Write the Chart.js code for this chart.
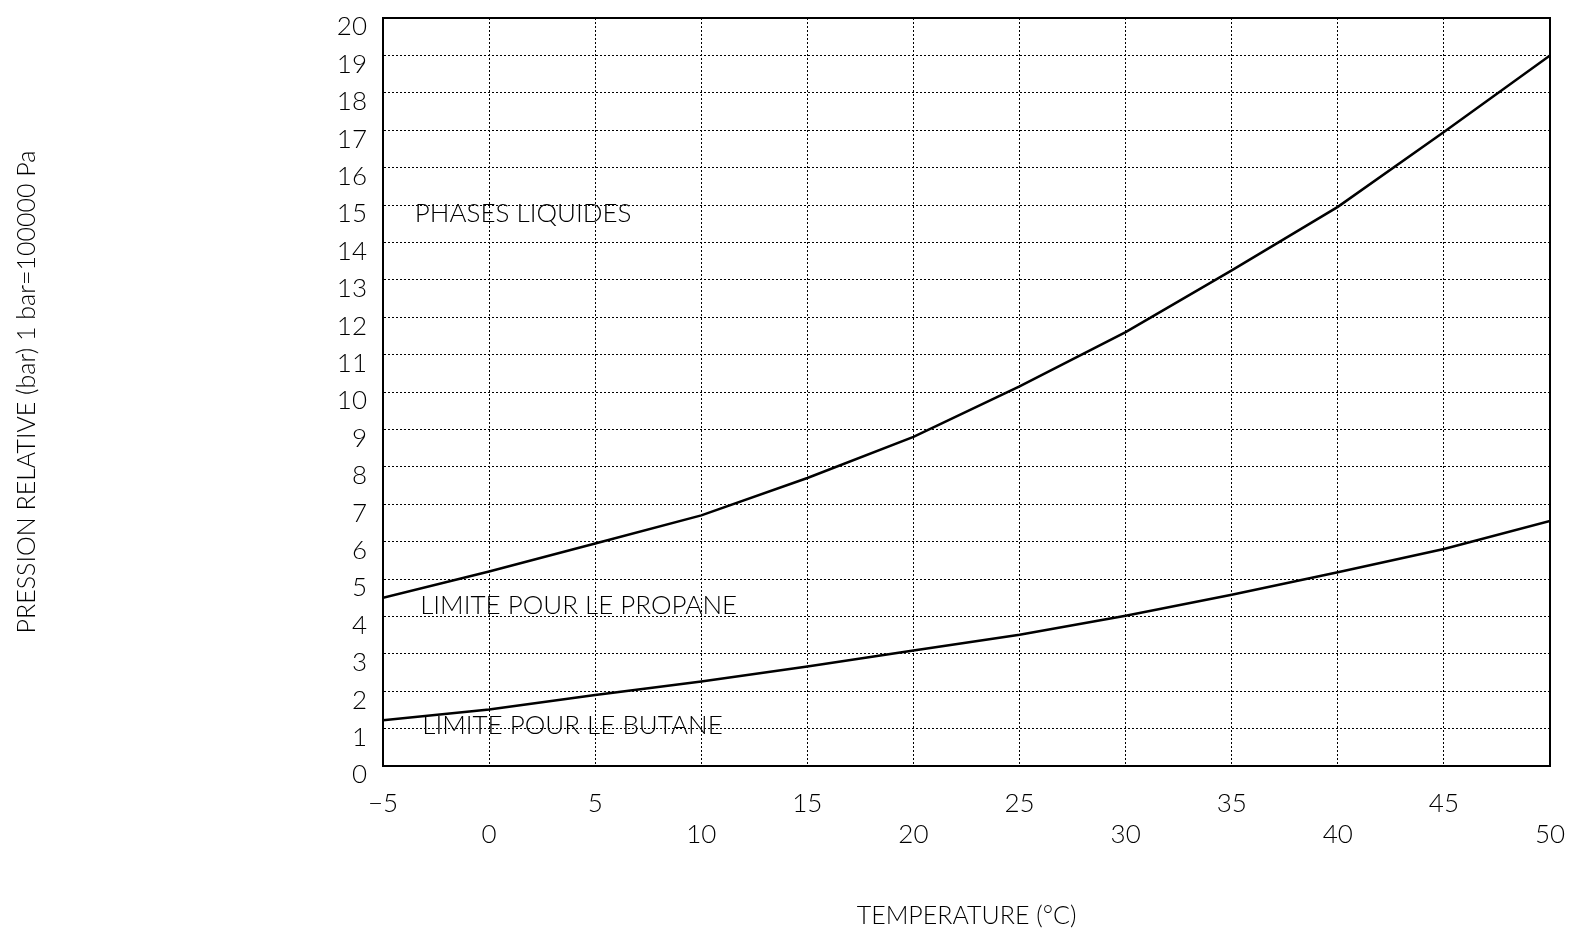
<!DOCTYPE html>
<html lang="fr">
<head>
  <meta charset="UTF-8" />
  <title>Pression relative propane / butane</title>
  <script src="https://cdn.jsdelivr.net/npm/chart.js"></script>
  <style>
    body {
      margin: 0;
      background: #ffffff;
    }
    #graphe {
      display: block;
    }
  </style>
</head>
<body>
  <canvas id="graphe" width="1575" height="933"></canvas>

  <script>
    // Données
    const temperatures = [-5, 0, 5, 10, 15, 20, 25, 30, 35, 40, 45, 50];
    const propane = [4.5, 5.2, 5.95, 6.7, 7.7, 8.8, 10.15, 11.6, 13.25, 14.95, 16.95, 19.0];
    const butane = [1.22, 1.51, 1.9, 2.26, 2.66, 3.09, 3.51, 4.02, 4.58, 5.18, 5.8, 6.55];

    // graduations de l'axe X : deux rangées décalées
    const ticksRangHaut = [-5, 5, 15, 25, 35, 45];
    const ticksRangBas = [0, 10, 20, 30, 40, 50];

    // textes dans le graphique (position en valeurs de données)
    const notes = ['PHASES LIQUIDES', 'LIMITE POUR LE PROPANE', 'LIMITE POUR LE BUTANE'];
    const notesT = [-3.5, -3.25, -3.15];
    const notesP = [14.76, 4.28, 1.09];

    const police = "Lato, 'Liberation Sans', sans-serif";

    const cadre = {
      id: 'cadre',
      afterDatasetsDraw(chart) {
        const { ctx, chartArea: a, scales } = chart;
        ctx.save();
        ctx.strokeStyle = '#000';
        ctx.lineWidth = 2;
        ctx.strokeRect(a.left, a.top, a.right - a.left, a.bottom - a.top);

        ctx.font = '300 26px ' + police;
        ctx.fillStyle = '#000';
        ctx.textBaseline = 'middle';
        ctx.textAlign = 'left';
        notes.forEach((txt, i) => {
          ctx.fillText(txt, scales.x.getPixelForValue(notesT[i]), scales.y.getPixelForValue(notesP[i]));
        });
        ctx.restore();
      }
    };

    const serie = (data) => ({
      data: temperatures.map((t, i) => ({ x: t, y: data[i] })),
      borderColor: '#000',
      borderWidth: 2.5,
      pointRadius: 0,
      tension: 0,
      fill: false
    });

    new Chart(document.getElementById('graphe'), {
      type: 'line',
      data: {
        datasets: [serie(propane), serie(butane)]
      },
      options: {
        responsive: false,
        animation: false,
        layout: { padding: { top: 18, right: 25, left: 0, bottom: 0 } },
        plugins: {
          legend: { display: false },
          tooltip: { enabled: false }
        },
        scales: {
          x: {
            type: 'linear',
            min: -5,
            max: 50,
            afterFit(scale) {
              scale.height = 167;
              scale.paddingLeft = 0;
              scale.paddingRight = 0;
            },
            afterBuildTicks(scale) {
              scale.ticks = temperatures.map(v => ({ value: v }));
            },
            ticks: {
              autoSkip: false,
              maxRotation: 0,
              padding: 22,
              color: '#000',
              font: { family: police, size: 26, weight: '300', lineHeight: 1.2 },
              callback(v) {
                const txt = v < 0 ? '\u2212' + Math.abs(v) : String(v);
                return ticksRangBas.includes(v) ? ['', txt] : [txt];
              }
            },
            grid: {
              color: '#000',
              lineWidth: 1,
              drawTicks: false
            },
            border: { display: true, color: '#000', width: 2, dash: [2, 2] },
            title: {
              display: true,
              text: 'TEMPERATURE (°C)',
              color: '#000',
              font: { family: police, size: 25, weight: '300', lineHeight: 1.2 },
              padding: { top: 0, bottom: 2 }
            }
          },
          y: {
            min: 0,
            max: 20,
            afterFit(scale) {
              scale.width = 383;
              scale.paddingTop = 0;
              scale.paddingBottom = 0;
            },
            ticks: {
              stepSize: 1,
              padding: 16,
              labelOffset: 9,
              color: '#000',
              font: { family: police, size: 26, weight: '300' }
            },
            grid: {
              color: '#000',
              lineWidth: 1,
              drawTicks: false
            },
            border: { display: true, color: '#000', width: 2, dash: [2, 2] },
            title: {
              display: true,
              text: 'PRESSION RELATIVE (bar) 1 bar=100000 Pa',
              color: '#000',
              font: { family: police, size: 25, weight: '300', lineHeight: 1.2 },
              padding: { top: 12, bottom: 0 }
            }
          }
        }
      },
      plugins: [cadre]
    });
  </script>
</body>
</html>
